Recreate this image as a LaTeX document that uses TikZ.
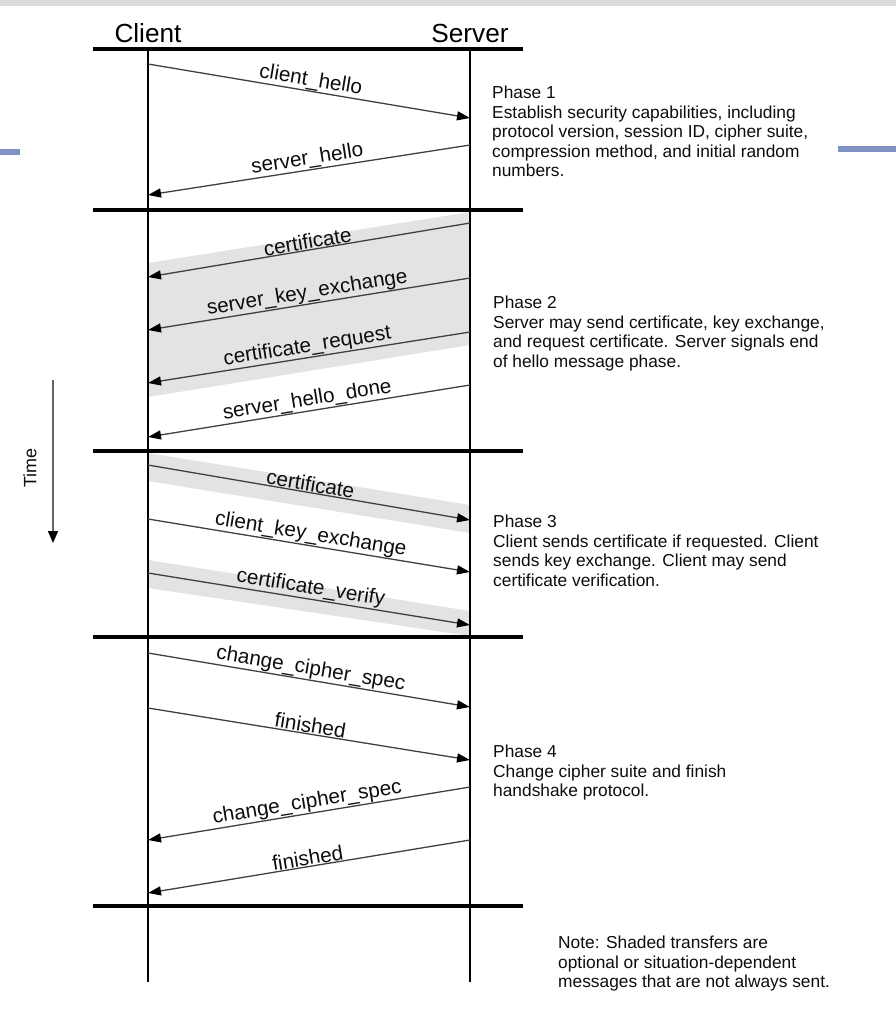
\documentclass[tikz,border=0pt]{standalone}
\usepackage{fontspec}
\setmainfont{Liberation Sans}
\usetikzlibrary{positioning, calc, arrows.meta}

\definecolor{slidebar}{RGB}{128,146,196}

\begin{document}
\begin{tikzpicture}[x=1bp, y=-1bp,
    msg/.style={draw=black!75, line width=1.3bp, -{Triangle[length=13bp, width=9bp, color=black]}},
    lbl/.style={midway, sloped, above, inner sep=0.5bp, text=black!95, font=\fontsize{20.8}{22}\selectfont},
    sep/.style={line width=4.5bp, black},
    life/.style={line width=1.5bp, black},
    band/.style={fill=black!11, draw=none},
    phase/.style={anchor=north west, inner sep=0pt, align=left, text=black!95, font=\fontsize{17.4}{19.6}\selectfont},
    head/.style={anchor=base, inner sep=0pt, font=\fontsize{26.3}{28}\selectfont}]
          \useasboundingbox (0,0) rectangle (896,1026);

          % slide decoration
          \fill[black!14] (0,0) rectangle (896,6);
          \fill[slidebar] (0,149) rectangle (20,155);
          \fill[slidebar] (838,146) rectangle (896,152);

          \node[head] (client) at (148,42) {Client};
          \node[head] (server) at (470,42) {Server};

          \coordinate (c1) at (148,64);  \coordinate (s1) at (470,118);
          \coordinate (s2) at (470,145); \coordinate (c2) at (148,195);
          \coordinate (s3) at (470,223); \coordinate (c3) at (148,277);
          \coordinate (s4) at (470,278); \coordinate (c4) at (148,330);
          \coordinate (s5) at (470,332); \coordinate (c5) at (148,383);
          \coordinate (s6) at (470,385); \coordinate (c6) at (148,437);
          \coordinate (c7) at (148,465); \coordinate (s7) at (470,520);
          \coordinate (c8) at (148,519); \coordinate (s8) at (470,572);
          \coordinate (c9) at (148,573); \coordinate (s9) at (470,625);
          \coordinate (c10) at (148,653); \coordinate (s10) at (470,707);
          \coordinate (c11) at (148,708); \coordinate (s11) at (470,760);
          \coordinate (s12) at (470,787); \coordinate (c12) at (148,840);
          \coordinate (s13) at (470,840); \coordinate (c13) at (148,893);

          % optional transfers
          \fill[band] ($(s3)+(0,-11)$) -- ($(c3)+(0,-14)$) -- ($(c5)+(0,14)$) -- ($(s5)+(0,13)$) -- cycle;
          \fill[band] ($(c7)+(0,-12)$) -- ($(s7)+(0,-15)$) -- ($(s7)+(0,13)$) -- ($(c7)+(0,16)$) -- cycle;
          \fill[band] ($(c9)+(0,-13)$) -- ($(s9)+(0,-14)$) -- ($(s9)+(0,11)$) -- ($(c9)+(0,15)$) -- cycle;

          \coordinate (ct) at (148,49); \coordinate (cb) at (148,982);
          \coordinate (st) at (470,49); \coordinate (sb) at (470,982);
          \draw[life] (ct) -- (cb);
          \draw[life] (st) -- (sb);

          \draw[sep] (93,49) -- (523,49);
          \draw[sep] (93,210) -- (523,210);
          \draw[sep] (93,451) -- (523,451);
          \draw[sep] (93,637) -- (523,637);
          \draw[sep] (93,906) -- (523,906);

          \draw[msg] (c1) -- (s1) node[lbl] {client\_hello};
          \draw[msg] (s2) -- (c2) node[lbl] {server\_hello};
          \draw[msg] (s3) -- (c3) node[lbl] {certificate};
          \draw[msg] (s4) -- (c4) node[lbl] {server\_key\_exchange};
          \draw[msg] (s5) -- (c5) node[lbl] {certificate\_request};
          \draw[msg] (s6) -- (c6) node[lbl] {server\_hello\_done};
          \draw[msg] (c7) -- (s7) node[lbl] {certificate};
          \draw[msg] (c8) -- (s8) node[lbl] {client\_key\_exchange};
          \draw[msg] (c9) -- (s9) node[lbl] {certificate\_verify};
          \draw[msg] (c10) -- (s10) node[lbl] {change\_cipher\_spec};
          \draw[msg] (c11) -- (s11) node[lbl] {finished};
          \draw[msg] (s12) -- (c12) node[lbl] {change\_cipher\_spec};
          \draw[msg] (s13) -- (c13) node[lbl] {finished};

          \node[phase] (ph1) at (492,86) {Phase 1\\Establish security capabilities, including\\protocol version, session ID, cipher suite,\\compression method, and initial random\\numbers.};
          \node[phase] (ph2) at (493,296) {Phase 2\\Server may send certificate, key exchange,\\and request certificate. Server signals end\\of hello message phase.};
          \node[phase] (ph3) at (493,515) {Phase 3\\Client sends certificate if requested. Client\\sends key exchange. Client may send\\certificate verification.};
          \node[phase] (ph4) at (493,745) {Phase 4\\Change cipher suite and finish\\handshake protocol.};
          \node[phase] (note) at (558,936) {Note: Shaded transfers are\\optional or situation-dependent\\messages that are not always sent.};

          % time axis
          \coordinate (t0) at (53,380);
          \coordinate (t1) at (53,543);
          \draw[black!60, line width=1.5bp, -{Triangle[length=12bp, width=10bp, color=black]}] (t0) -- (t1);
          \node[rotate=90, inner sep=0pt, text=black!95, font=\fontsize{18}{20}\selectfont] (time) at (30,468) {Time};
        \end{tikzpicture}
\end{document}
